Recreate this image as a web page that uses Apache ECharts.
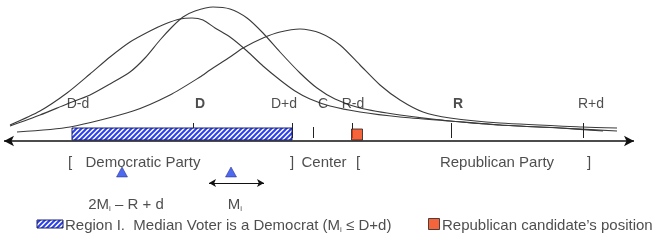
<!DOCTYPE html>
<html>
<head>
<meta charset="utf-8">
<script src="https://cdn.jsdelivr.net/npm/echarts@6/dist/echarts.min.js"></script>
<style>
html, body { margin: 0; padding: 0; background: #fff; }
#chart { width: 658px; height: 242px; }
</style>
</head>
<body>
<div id="chart"></div>
<script>
// voter distributions: [position, height above the axis]
const curveWide = [[10,16],[40,30],[67,48],[90,67],[110,84],[130,99],[150,110],[165,117],[180,122],[192,123],[203,121],[215,113],[230,104],[247,90],[263,75],[280,61],[295,50],[310,42],[330,35],[360,29],[400,24],[450,20],[500,16],[560,13],[603,10]];
const curveTall = [[10,15],[40,26],[67,37],[90,46],[110,57],[130,69],[145,83],[160,101],[172,114],[183,124],[195,130],[213,134],[230,132],[247,123],[263,108],[280,89],[300,68],[317,53],[335,42],[360,33],[400,26],[450,20],[500,16],[560,13],[617,10]];
const curveRight = [[17,9],[70,14],[133,30],[170,46],[200,64],[210,71],[230,84],[243,93],[263,103],[280,109],[300,112],[320,108],[340,96],[360,76],[380,56],[400,41],[423,29],[450,23],[500,18],[583,14],[617,13]];

// points on the policy line
const tickNames = ['D-d', 'D', 'D+d', 'C', 'R-d', 'R', 'R+d'];
const tickPos = [72, 193, 292, 313, 352, 451, 583];
const tickLabelX = [78, 200, 284, 323, 353, 458, 591];
const regionI = [72, 292];          // D-d .. D+d
const repCandidate = 357;           // Republican candidate's position
const voterMarks = [122, 231];      // 2Mi - R + d, Mi

const partyText = ['[', 'Democratic Party', ']', 'Center', '[', 'Republican Party', ']'];
const partyTextX = [70, 143, 292, 324, 358, 497, 589];

const AXIS_Y = 0, LABEL_Y = 37, PARTY_Y = -22, TRI_Y = -31, ARROW_Y = -42, MARK_Y = -64, LEG_Y = -85;
const FONT = 'Liberation Sans, Arial, sans-serif';

// diagonal hatch for region I
function hatch() {
    const c = document.createElement('canvas');
    c.width = 5; c.height = 5;
    const g = c.getContext('2d');
    g.fillStyle = '#ffffff';
    g.fillRect(0, 0, 5, 5);
    g.strokeStyle = '#2a3ff0';
    g.lineWidth = 2;
    g.beginPath();
    g.moveTo(-1, 6); g.lineTo(6, -1);
    g.moveTo(-3, 3); g.lineTo(3, -3);
    g.moveTo(2, 8); g.lineTo(8, 2);
    g.stroke();
    return c;
}
const hatchFill = { image: hatch(), repeat: 'repeat' };

const sub = { s: { fontSize: 8, verticalAlign: 'bottom', padding: [7, 0, 0, 0], fontFamily: FONT, color: '#222' } };

function txt(x, y, text, opts) {
    opts = opts || {};
    return {
        value: [x, y],
        label: {
            show: true,
            position: opts.left ? 'right' : 'inside',
            distance: 0,
            formatter: text,
            fontSize: opts.size || 15,
            fontWeight: opts.bold ? 'bold' : 'normal',
            fontFamily: FONT,
            color: '#222',
            rich: sub
        }
    };
}

const labels = [];
tickNames.forEach(function (n, i) {
    labels.push(txt(tickLabelX[i], LABEL_Y, n, { size: 14, bold: n === 'D' || n === 'R' }));
});
partyText.forEach(function (t, i) {
    labels.push(txt(partyTextX[i], PARTY_Y, t));
});
labels.push(txt(voterMarks[0] + 4, MARK_Y, '2M{s|i} \u2013 R + d'));
labels.push(txt(voterMarks[1] + 4, MARK_Y, 'M{s|i}'));
labels.push(txt(65, LEG_Y, 'Region I.  Median Voter is a Democrat (M{s|i} \u2264 D+d)', { left: true }));
labels.push(txt(442, LEG_Y, 'Republican candidate\u2019s position', { left: true }));

const tickSegs = [];
tickPos.forEach(function (p, i) {
    if (i === 0) return;
    const top = tickNames[i] === 'C' ? 14 : 18;
    tickSegs.push([{ coord: [p, 3] }, { coord: [p, top] }]);
});

function rectItem(params, api) {
    const a = api.coord([api.value(0), api.value(2)]);
    const b = api.coord([api.value(1), api.value(3)]);
    return {
        type: 'rect',
        shape: { x: a[0], y: b[1], width: b[0] - a[0], height: a[1] - b[1] },
        style: { fill: hatchFill, stroke: '#1a2060', lineWidth: 1 }
    };
}

const curveStyle = { color: '#3a3a3a', width: 1.1 };

const option = {
    animation: false,
    grid: { left: 0, right: 0, top: 0, bottom: 0 },
    xAxis: { type: 'value', min: 0, max: 658, show: false },
    yAxis: { type: 'value', min: -101, max: 141, show: false },
    series: [
        { type: 'line', data: curveWide, smooth: 0.25, showSymbol: false, lineStyle: curveStyle, z: 2 },
        { type: 'line', data: curveTall, smooth: 0.25, showSymbol: false, lineStyle: curveStyle, z: 2 },
        { type: 'line', data: curveRight, smooth: 0.25, showSymbol: false, lineStyle: curveStyle, z: 2 },
        {
            // ticks on the policy line
            type: 'line', data: [], z: 3,
            markLine: {
                silent: true, animation: false,
                symbol: 'none',
                label: { show: false },
                lineStyle: { color: '#222', width: 1, type: 'solid' },
                data: tickSegs
            }
        },
        {
            type: 'line', data: [], z: 6,
            markLine: {
                silent: true, animation: false,
                symbol: ['arrow', 'arrow'], symbolSize: [8, 10],
                label: { show: false },
                lineStyle: { color: '#111', width: 1.6, type: 'solid' },
                data: [
                    [{ coord: [4, AXIS_Y] }, { coord: [634, AXIS_Y] }]
                ]
            }
        },
        {
            type: 'line', data: [], z: 6,
            markLine: {
                silent: true, animation: false,
                symbol: ['arrow', 'arrow'], symbolSize: [6, 7],
                label: { show: false },
                lineStyle: { color: '#111', width: 1.2, type: 'solid' },
                data: [
                    [{ coord: [209, ARROW_Y] }, { coord: [264, ARROW_Y] }]
                ]
            }
        },
        {
            // region I bar and legend swatch
            type: 'custom', z: 5,
            renderItem: rectItem,
            data: [
                [regionI[0], regionI[1], 1, 13],
                [37, 63, LEG_Y + 6, LEG_Y - 2]
            ]
        },
        {
            type: 'scatter', z: 7,
            symbol: 'rect', symbolSize: 11,
            itemStyle: { color: '#f33d0a', borderColor: '#222', borderWidth: 1 },
            data: [[repCandidate, 6.5], [434, LEG_Y + 2]]
        },
        {
            type: 'scatter', z: 7,
            symbol: 'triangle', symbolSize: [11, 10],
            itemStyle: { color: '#2244ee', borderColor: '#1a2070', borderWidth: 0.6 },
            data: voterMarks.map(function (m) { return [m, TRI_Y]; })
        },
        {
            type: 'scatter', z: 8, symbolSize: 0, silent: true,
            data: labels
        }
    ]
};

const chart = echarts.init(document.getElementById('chart'));
chart.setOption(option);
window.addEventListener('resize', function () { chart.resize(); });
</script>
</body>
</html>
